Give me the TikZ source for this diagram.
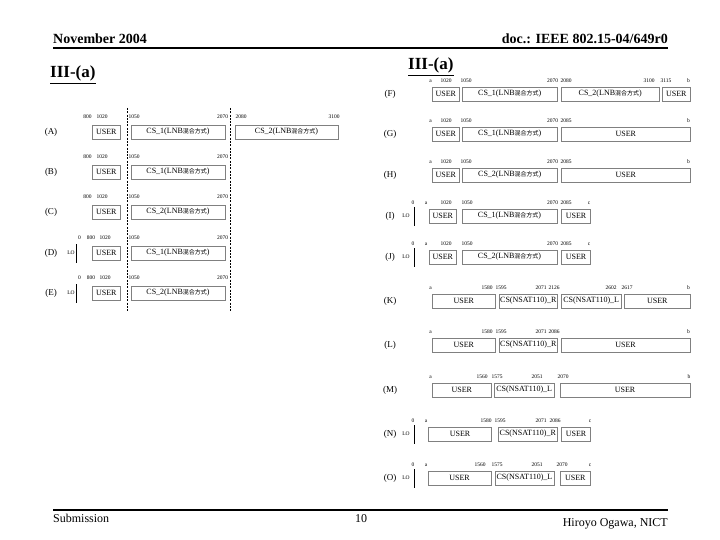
\documentclass[tikz,border=0pt]{standalone}
\usepackage{fontspec}
\setmainfont{Liberation Serif}
\newfontfamily\jpfont{Noto Sans CJK JP}
\newcommand\mixjp{{\jpfont\fontsize{6}{7}\selectfont 混合方式}}
\newcommand\csone{CS\_1(LNB\mixjp)}
\newcommand\cstwo{CS\_2(LNB\mixjp)}
\newcommand\csr{CS(NSAT110)\_R}
\newcommand\csl{CS(NSAT110)\_L}
% #1 name, #2 left x, #3 right x, #4 centre y, #5 text
\newcommand\seg[5]{\node[segbox, minimum width={#3-#2}] (#1) at ({(#2+#3)/2},#4) {#5};}
\begin{document}
\begin{tikzpicture}[x=1pt,y=-1pt,
  segbox/.style={draw=black!50, line width=0.5pt, minimum height=14pt, inner sep=0pt, outer sep=0pt, font=\fontsize{8}{9}\selectfont},
  num/.style={inner sep=0pt, font=\fontsize{5.5}{6}\selectfont},
  rowlab/.style={inner sep=0pt, font=\fontsize{9}{10}\selectfont},
  lotext/.style={inner sep=0pt, font=\fontsize{5.5}{6}\selectfont},
  cutline/.style={line width=0.7pt, dash pattern=on 2pt off 1.3pt},
  loline/.style={line width=0.6pt},
  rule/.style={line width=2pt},
  hdr/.style={inner sep=0pt, font=\bfseries\fontsize{14}{16}\selectfont},
  ttl/.style={inner sep=0pt, anchor=base west, font=\bfseries\fontsize{17}{19}\selectfont},
  ftr/.style={inner sep=0pt, font=\fontsize{12}{14}\selectfont}]
\useasboundingbox (0,0) rectangle (720,540);
% header / footer
\node[hdr, anchor=base west] (hL) at (53,44) {November 2004};
\node[hdr, anchor=base east] (hR) at (668,44) {doc.: IEEE 802.15-04/649r0};
\coordinate (r1a) at (53,48); \coordinate (r1b) at (668,48);
\draw[rule] (r1a) -- (r1b);
\coordinate (r2a) at (53,510); \coordinate (r2b) at (668,510);
\draw[rule] (r2a) -- (r2b);
\node[ftr, anchor=base west] (fL) at (53,522) {Submission};
\node[ftr, anchor=base] (fM) at (361,522) {10};
\node[ftr, anchor=base east] (fR) at (668,526) {Hiroyo Ogawa, NICT};
\node[ttl] (t1) at (50,78) {\underline{III-(a)}};
\node[ttl] (t2) at (408,70) {\underline{III-(a)}};

% ---------------- left panel ----------------
\coordinate (dl1t) at (127.5,108); \coordinate (dl1b) at (127.5,312);
\coordinate (dl2t) at (230.5,108); \coordinate (dl2b) at (230.5,312);
\draw[cutline] (dl1t) -- (dl1b);
\draw[cutline] (dl2t) -- (dl2b);
% (A)
\node[rowlab] (lA) at (51,132) {(A)};
\seg{uA}{92.5}{120}{132}{USER}
\seg{cA}{131}{225}{132}{\csone}
\seg{dA}{235}{338}{132}{\cstwo}
\node[num] (nA1) at (87.5,117) {800};
\node[num] (nA2) at (102,117) {1020};
\node[num] (nA3) at (134,117) {1050};
\node[num] (nA4) at (222.5,117) {2070};
\node[num] (nA5) at (241,117) {2080};
\node[num] (nA6) at (334,117) {3100};
% (B)
\node[rowlab] (lB) at (51,172) {(B)};
\seg{uB}{92.5}{120}{172}{USER}
\seg{cB}{131}{225}{172}{\csone}
\node[num] (nB1) at (87.5,157) {800};
\node[num] (nB2) at (102,157) {1020};
\node[num] (nB3) at (134,157) {1050};
\node[num] (nB4) at (222.5,157) {2070};
% (C)
\node[rowlab] (lC) at (51,212) {(C)};
\seg{uC}{92.5}{120}{212}{USER}
\seg{cC}{131}{225}{212}{\cstwo}
\node[num] (nC1) at (87.5,197) {800};
\node[num] (nC2) at (102,197) {1020};
\node[num] (nC3) at (134,197) {1050};
\node[num] (nC4) at (222.5,197) {2070};
% (D)
\node[rowlab] (lD) at (51,253) {(D)};
\node[lotext] (loD) at (71,253) {LO};
\coordinate (lDt) at (76.5,244); \coordinate (lDb) at (76.5,263);
\draw[loline] (lDt) -- (lDb);
\seg{uD}{92.5}{120}{253}{USER}
\seg{cD}{131}{225}{253}{\csone}
\node[num] (nD0) at (79.5,238) {0};
\node[num] (nD1) at (91,238) {800};
\node[num] (nD2) at (105,238) {1020};
\node[num] (nD3) at (134,238) {1050};
\node[num] (nD4) at (222.5,238) {2070};
% (E)
\node[rowlab] (lE) at (51,293) {(E)};
\node[lotext] (loE) at (71,293) {LO};
\coordinate (lEt) at (76.5,284); \coordinate (lEb) at (76.5,303);
\draw[loline] (lEt) -- (lEb);
\seg{uE}{92.5}{120}{293}{USER}
\seg{cE}{131}{225}{293}{\cstwo}
\node[num] (nE0) at (79.5,278) {0};
\node[num] (nE1) at (91,278) {800};
\node[num] (nE2) at (105,278) {1020};
\node[num] (nE3) at (134,278) {1050};
\node[num] (nE4) at (222.5,278) {2070};

% ---------------- right panel ----------------
% (F)
\node[rowlab] (lF) at (390,94) {(F)};
\seg{uF1}{432.5}{459}{94}{USER}
\seg{cF1}{462.5}{557}{94}{\csone}
\seg{cF2}{561.5}{659}{94}{\cstwo}
\seg{uF2}{662.5}{690}{94}{USER}
\node[num] (nF1) at (430.5,81) {a};
\node[num] (nF2) at (446,81) {1020};
\node[num] (nF3) at (466,81) {1050};
\node[num] (nF4) at (552.5,81) {2070};
\node[num] (nF5) at (566,81) {2080};
\node[num] (nF6) at (649,81) {3100};
\node[num] (nF7) at (666,81) {3115};
\node[num] (nF8) at (688.5,81) {b};
% (G)
\node[rowlab] (lG) at (390,134) {(G)};
\seg{uG1}{432.5}{459}{134}{USER}
\seg{cG1}{462.5}{557}{134}{\csone}
\seg{uG2}{561.5}{690}{134}{USER}
\node[num] (nG1) at (430.5,121) {a};
\node[num] (nG2) at (446,121) {1020};
\node[num] (nG3) at (466,121) {1050};
\node[num] (nG4) at (552.5,121) {2070};
\node[num] (nG5) at (566,121) {2085};
\node[num] (nG6) at (688.5,121) {b};
% (H)
\node[rowlab] (lH) at (390,175) {(H)};
\seg{uH1}{432.5}{459}{175}{USER}
\seg{cH1}{462.5}{557}{175}{\cstwo}
\seg{uH2}{561.5}{690}{175}{USER}
\node[num] (nH1) at (430.5,162) {a};
\node[num] (nH2) at (446,162) {1020};
\node[num] (nH3) at (466,162) {1050};
\node[num] (nH4) at (552.5,162) {2070};
\node[num] (nH5) at (566,162) {2085};
\node[num] (nH6) at (688.5,162) {b};
% (I)
\node[rowlab] (lI) at (390,216) {(I)};
\node[lotext] (loI) at (406,216) {LO};
\coordinate (lIt) at (414.5,207); \coordinate (lIb) at (414.5,226);
\draw[loline] (lIt) -- (lIb);
\seg{uI1}{429}{456.5}{216}{USER}
\seg{cI1}{462}{557}{216}{\csone}
\seg{uI2}{561.5}{590.5}{216}{USER}
\node[num] (nI0) at (413,203) {0};
\node[num] (nI1) at (426,203) {a};
\node[num] (nI2) at (446,203) {1020};
\node[num] (nI3) at (467,203) {1050};
\node[num] (nI4) at (552.5,203) {2070};
\node[num] (nI5) at (566,203) {2085};
\node[num] (nI6) at (589,203) {c};
% (J)
\node[rowlab] (lJ) at (390,257) {(J)};
\node[lotext] (loJ) at (406,257) {LO};
\coordinate (lJt) at (414.5,248); \coordinate (lJb) at (414.5,267);
\draw[loline] (lJt) -- (lJb);
\seg{uJ1}{429}{456.5}{257}{USER}
\seg{cJ1}{462}{557}{257}{\cstwo}
\seg{uJ2}{561.5}{590.5}{257}{USER}
\node[num] (nJ0) at (413,244) {0};
\node[num] (nJ1) at (426,244) {a};
\node[num] (nJ2) at (446,244) {1020};
\node[num] (nJ3) at (467,244) {1050};
\node[num] (nJ4) at (552.5,244) {2070};
\node[num] (nJ5) at (566,244) {2085};
\node[num] (nJ6) at (589,244) {c};
% (K)
\node[rowlab] (lK) at (390,301) {(K)};
\seg{uK1}{432.5}{495}{301}{USER}
\seg{cK1}{499}{557.5}{301}{\csr}
\seg{cK2}{561}{621.5}{301}{\csl}
\seg{uK2}{624.5}{690}{301}{USER}
\node[num] (nK1) at (430.5,288) {a};
\node[num] (nK2) at (487,288) {1580};
\node[num] (nK3) at (501,288) {1595};
\node[num] (nK4) at (541,288) {2071};
\node[num] (nK5) at (554,288) {2126};
\node[num] (nK6) at (611,288) {2602};
\node[num] (nK7) at (627,288) {2617};
\node[num] (nK8) at (688.5,288) {b};
% (L)
\node[rowlab] (lL) at (390,345) {(L)};
\seg{uL1}{432.5}{495}{345}{USER}
\seg{cL1}{499}{557.5}{345}{\csr}
\seg{uL2}{561}{690}{345}{USER}
\node[num] (nL1) at (430.5,332) {a};
\node[num] (nL2) at (487,332) {1580};
\node[num] (nL3) at (501,332) {1595};
\node[num] (nL4) at (541,332) {2071};
\node[num] (nL5) at (554,332) {2086};
\node[num] (nL6) at (688.5,332) {b};
% (M)
\node[rowlab] (lM) at (390,390) {(M)};
\seg{uM1}{432.5}{491}{390}{USER}
\seg{cM1}{494.5}{554}{390}{\csl}
\seg{uM2}{560}{690}{390}{USER}
\node[num] (nM1) at (430.5,377) {a};
\node[num] (nM2) at (482,377) {1560};
\node[num] (nM3) at (497,377) {1575};
\node[num] (nM4) at (537,377) {2051};
\node[num] (nM5) at (563,377) {2070};
\node[num] (nM6) at (689,377) {b};
% (N)
\node[rowlab] (lN) at (390,434) {(N)};
\node[lotext] (loN) at (406,434) {LO};
\coordinate (lNt) at (414.5,425); \coordinate (lNb) at (414.5,444);
\draw[loline] (lNt) -- (lNb);
\seg{uN1}{428.5}{491.5}{434}{USER}
\seg{cN1}{498.5}{557}{434}{\csr}
\seg{uN2}{561.5}{590.5}{434}{USER}
\node[num] (nN0) at (413,421) {0};
\node[num] (nN1) at (426,421) {a};
\node[num] (nN2) at (486,421) {1580};
\node[num] (nN3) at (500,421) {1595};
\node[num] (nN4) at (541,421) {2071};
\node[num] (nN5) at (555,421) {2086};
\node[num] (nN6) at (590,421) {c};
% (O)
\node[rowlab] (lO) at (390,478) {(O)};
\node[lotext] (loO) at (406,478) {LO};
\coordinate (lOt) at (414.5,469); \coordinate (lOb) at (414.5,488);
\draw[loline] (lOt) -- (lOb);
\seg{uO1}{428}{491}{478}{USER}
\seg{cO1}{495}{554}{478}{\csl}
\seg{uO2}{560}{590.5}{478}{USER}
\node[num] (nO0) at (413,465) {0};
\node[num] (nO1) at (426,465) {a};
\node[num] (nO2) at (480,465) {1560};
\node[num] (nO3) at (497,465) {1575};
\node[num] (nO4) at (537,465) {2051};
\node[num] (nO5) at (562,465) {2070};
\node[num] (nO6) at (590,465) {c};
\end{tikzpicture}
\end{document}
